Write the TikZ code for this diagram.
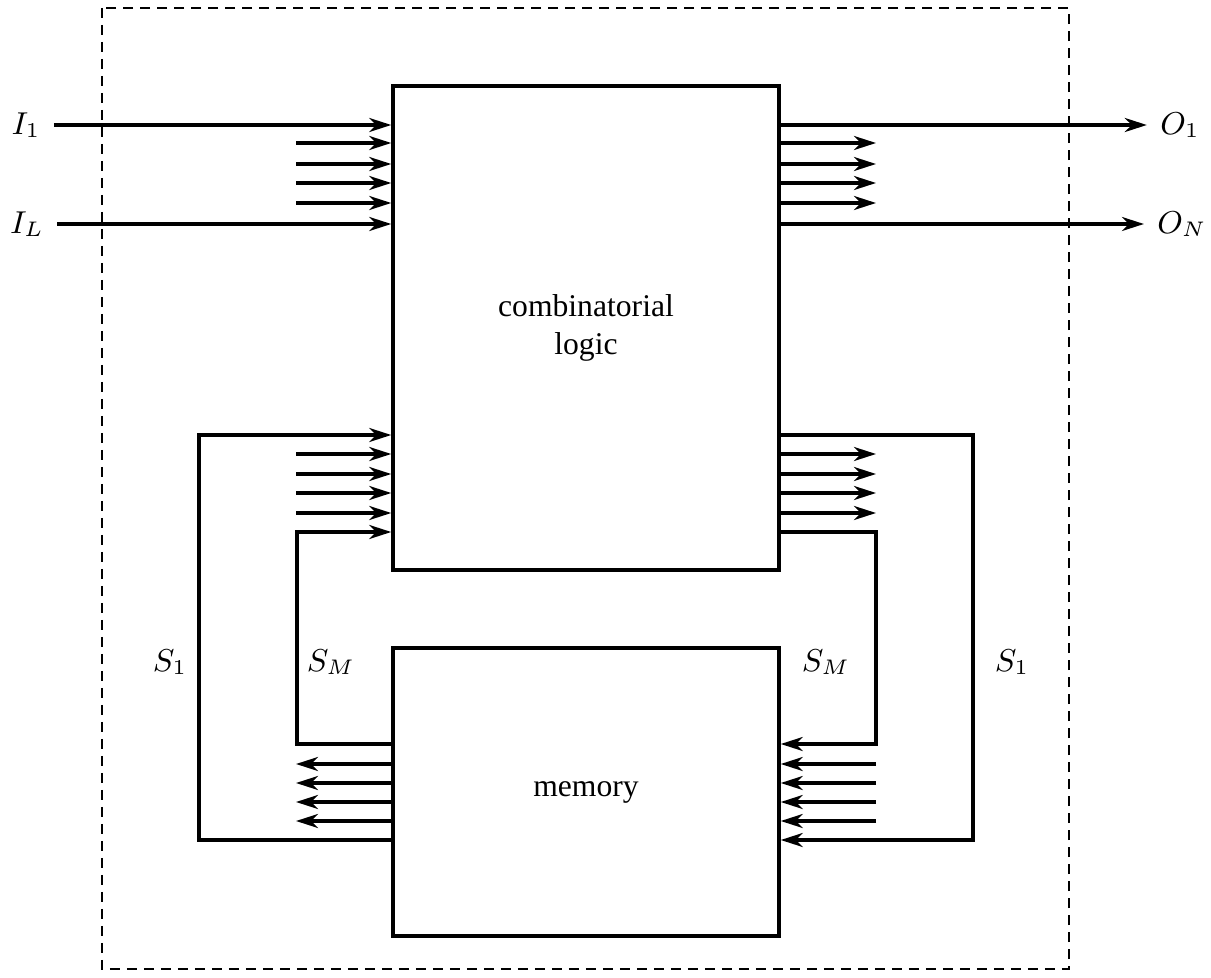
\documentclass[tikz,border=0pt]{standalone}
\usepackage{fontspec}
\setmainfont{Liberation Serif}
\usetikzlibrary{arrows.meta,positioning,calc}

\begin{document}
\begin{tikzpicture}[x=0.1mm, y=-0.1mm, line width=1pt,
    font=\fontsize{9}{10.8}\selectfont,
    sig/.style={-{Stealth[length=2.2mm, width=1.4mm, inset=0.7mm]}},
    block/.style={draw, minimum width=38.6mm, inner sep=0pt, align=center}]
    \useasboundingbox (0,0) rectangle (1211,978);

    % Outer boundary
    \draw[line width=0.7pt, dash pattern=on 1mm off 0.7mm] (102,8) rectangle (1069,969);

    % Blocks
    \node[block, minimum height=48.4mm] (comb) at (586,328) {combinatorial\\logic};
    \node[block, minimum height=28.8mm] (mem) at (586,792) {memory};

    % Inputs and outputs
    \node (i1) at (26,125) {$I_1$};
    \node (iL) at (27,224) {$I_L$};
    \node (o1) at (1180,125) {$O_1$};
    \node (oN) at (1182,224) {$O_N$};
    \draw[sig] (i1) -- (i1 -| comb.west);
    \draw[sig] (iL) -- (iL -| comb.west);
    \draw[sig] (o1 -| comb.east) -- (o1);
    \draw[sig] (oN -| comb.east) -- (oN);
    \foreach \y in {143,164,183,203} {
        \coordinate (in\y) at (296,\y);
        \coordinate (out\y) at (876,\y);
        \draw[sig] (in\y) -- (in\y -| comb.west);
        \draw[sig] (out\y -| comb.east) -- (out\y);
    }

    % State feedback
    \coordinate (s1lt) at (199,435);
    \coordinate (s1lb) at (199,840);
    \coordinate (smlt) at (297,532);
    \coordinate (smlb) at (297,744);
    \coordinate (s1rt) at (973,435);
    \coordinate (s1rb) at (973,840);
    \coordinate (smrt) at (876,532);
    \coordinate (smrb) at (876,744);
    \draw[sig] (s1lb -| mem.west) -- (s1lb) -- (s1lt) -- (s1lt -| comb.west);
    \draw[sig] (smlb -| mem.west) -- (smlb) -- (smlt) -- (smlt -| comb.west);
    \draw[sig] (s1rt -| comb.east) -- (s1rt) -- (s1rb) -- (s1rb -| mem.east);
    \draw[sig] (smrt -| comb.east) -- (smrt) -- (smrb) -- (smrb -| mem.east);
    \foreach \y in {454,474,493,513} {
        \coordinate (fl\y) at (296,\y);
        \coordinate (fr\y) at (876,\y);
        \draw[sig] (fl\y) -- (fl\y -| comb.west);
        \draw[sig] (fr\y -| comb.east) -- (fr\y);
    }
    \foreach \y in {764,783,802,821} {
        \coordinate (ml\y) at (296,\y);
        \coordinate (mr\y) at (876,\y);
        \draw[sig] (ml\y -| mem.west) -- (ml\y);
        \draw[sig] (mr\y) -- (mr\y -| mem.east);
    }

    % Labels
    \node (s1l) at (170,662) {$S_1$};
    \node (sml) at (331,662) {$S_M$};
    \node (smr) at (826,662) {$S_M$};
    \node (s1r) at (1012,662) {$S_1$};
\end{tikzpicture}
\end{document}
